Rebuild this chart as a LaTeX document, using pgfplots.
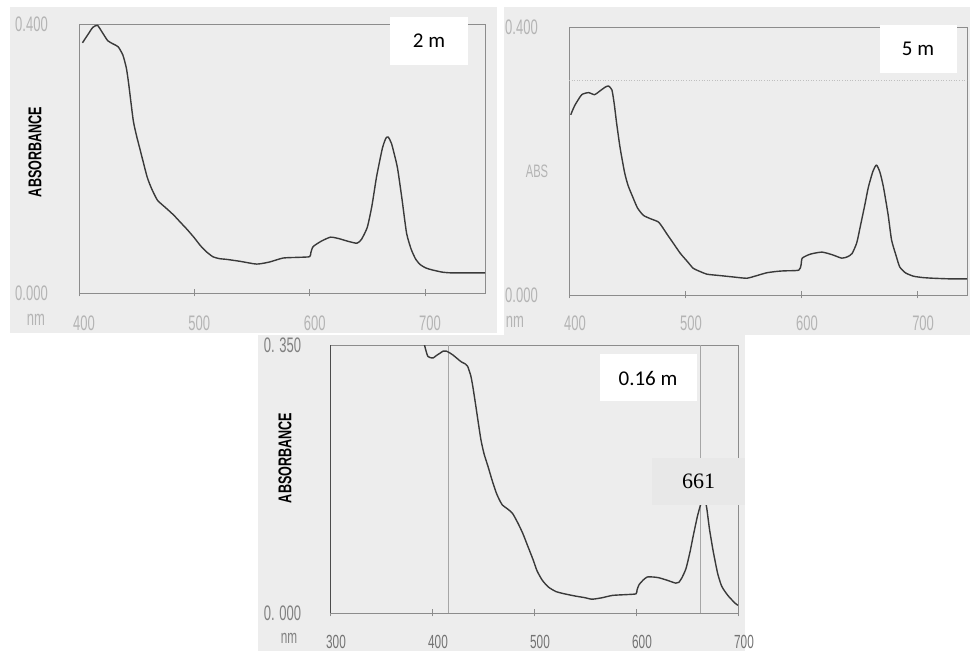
\documentclass[border=0pt]{standalone}
\usepackage{pgfplots}
\pgfplotsset{compat=1.18}
\usepackage{fontspec}
\setmainfont{Liberation Sans}
\newfontfamily\calib{Carlito}
\newfontfamily\tnr{Liberation Serif}
\definecolor{scan}{HTML}{EDEDED}
\definecolor{curve}{HTML}{3A3A3A}
\definecolor{faint}{HTML}{B4B4B4}
\newcommand\tl[1]{\scalebox{0.62}[1]{#1}}
\newcommand\absb{\fontsize{18.5}{18.5}\selectfont\bfseries\scalebox{0.68}[1]{ABSORBANCE}}
\pgfplotsset{
  scan axis/.style={
    scale only axis, anchor=south west,
    axis line style={black!45, line width=0.7pt},
    xtick pos=bottom, tick align=center, major tick length=7pt,
    xtick style={black!45, line width=0.7pt},
    ytick style={draw=none},
    tick label style={font=\fontsize{21}{21}\selectfont, text=faint},
    xticklabel style={anchor=center},
    yticklabel style={anchor=center, xshift=-44pt},
    clip=true,
    every axis plot/.append style={line join=round},
  },
}
\begin{document}
\begin{tikzpicture}[x=1pt,y=1pt]
\useasboundingbox (0,0) rectangle (970,651);
\fill[white] (0,0) rectangle (970,651);
\fill[scan] (10,318) rectangle (497,644);
\fill[scan] (504,316) rectangle (970,644);
\fill[scan] (258,0) rectangle (745,316);

% ---------- panel 1 : 2 m
\begin{axis}[scan axis, at={(79pt,358pt)}, width=406pt, height=269pt,
  xmin=400, xmax=752, ymin=0, ymax=0.4,
  xtick={400,500,600,700}, xticklabels={\tl{400},\tl{500},\tl{600},\tl{700}},
  xticklabel style={yshift=-27pt, xshift=5pt},
  ytick={0,0.4}, yticklabels={\tl{0.000},\tl{0.400}}]
\addplot[black!60, line width=0.8pt] coordinates {(400,0)(752,0)};
\addplot[curve, line width=1.4pt, smooth, tension=0.35] coordinates {
(403,0.372) (408,0.385) (412,0.395) (416,0.398) (420,0.388) (425,0.375) (430,0.370)
(434,0.366) (438,0.354) (441,0.335) (443,0.312) (447,0.257) (450,0.233) (453,0.213)
(459,0.173) (463,0.155) (468,0.138) (475,0.127) (482,0.116) (488,0.105) (494,0.094)
(500,0.082) (505,0.071) (510,0.062) (516,0.054) (522,0.051) (528,0.050) (540,0.047)
(554,0.043) (565,0.046) (577,0.052) (590,0.053) (600,0.054) (601,0.060) (603,0.069)
(610,0.077) (618,0.083) (625,0.081) (633,0.077) (641,0.074) (645,0.080) (650,0.098)
(654,0.130) (658,0.173) (663,0.215) (666,0.230) (668,0.232) (671,0.222) (676,0.187)
(680,0.140) (684,0.089) (688,0.065) (692,0.050) (696,0.042) (701,0.037) (707,0.034)
(715,0.031) (722,0.030) (735,0.030) (752,0.030)};
\end{axis}

% ---------- panel 2 : 5 m
\begin{axis}[scan axis, at={(569pt,356pt)}, width=398pt, height=268pt,
  xmin=400, xmax=743, ymin=0, ymax=0.4,
  xtick={400,500,600,700}, xticklabels={\tl{400},\tl{500},\tl{600},\tl{700}},
  xticklabel style={yshift=-25pt, xshift=6pt},
  ytick={0,0.4}, yticklabels={\tl{0.000},\tl{0.400}}]
\addplot[black!60, line width=0.8pt] coordinates {(400,0)(743,0)};
\addplot[black!25, line width=0.6pt, dotted] coordinates {(400,0.321)(743,0.321)};
\addplot[curve, line width=1.4pt, smooth, tension=0.35] coordinates {
(401.5,0.269) (405,0.283) (411,0.299) (417,0.302) (422,0.299) (427,0.305) (431,0.310)
(434,0.312) (437,0.306) (439,0.285) (441,0.257) (444,0.220) (448,0.182) (451,0.163)
(455,0.146) (459,0.130) (464,0.119) (470,0.114) (477,0.109) (481,0.100) (484,0.092)
(490,0.077) (496,0.062) (502,0.050) (507,0.040) (513,0.035) (519,0.031) (530,0.029)
(541,0.027) (553,0.025) (560,0.028) (570,0.033) (578,0.035) (585,0.036) (598,0.037)
(600,0.045) (601,0.055) (608,0.061) (618,0.064) (627,0.060) (635,0.055) (640,0.057)
(644,0.062) (648,0.078) (651,0.102) (655,0.135) (658,0.161) (662,0.185) (665,0.194)
(668,0.183) (671,0.161) (675,0.120) (678,0.082) (682,0.058) (685,0.042) (690,0.033)
(697,0.028) (705,0.026) (714,0.025) (730,0.024) (743,0.024)};
\end{axis}

% ---------- panel 3 : 0.16 m
\begin{axis}[scan axis, at={(330pt,38pt)}, width=408pt, height=268pt,
  xmin=300, xmax=700, ymin=0, ymax=0.35,
  xtick={300,400,500,600,700}, xticklabels={\tl{300},\tl{400},\tl{500},\tl{600},\tl{700}},
  xticklabel style={yshift=-25pt, xshift=6pt, text=black!55, font=\fontsize{19}{19}\selectfont},
  yticklabel style={text=black!50},
  ytick={0,0.35}, yticklabels={\tl{0. 000},\tl{0. 350}}]
\addplot[black!70, line width=0.9pt] coordinates {(300,0)(700,0)};
\addplot[black!70, line width=0.9pt] coordinates {(300,0)(300,0.35)};
\addplot[black!35, line width=0.6pt] coordinates {(415.6,0)(415.6,0.35)};
\addplot[black!35, line width=0.6pt] coordinates {(663,0)(663,0.35)};
\addplot[curve, line width=1.4pt, smooth, tension=0.35] coordinates {
(391,0.36) (393,0.348) (396,0.335) (401,0.333) (404,0.336) (407.5,0.339) (411,0.342)
(414,0.342) (417,0.340) (420.5,0.337) (425,0.332) (428.7,0.328) (433,0.325) (435,0.322)
(438,0.310) (440,0.296) (443,0.270) (445,0.252) (448,0.226) (451,0.208) (455,0.191)
(459,0.173) (463,0.157) (466,0.148) (469,0.141) (474,0.136) (479,0.130) (484,0.118)
(489,0.104) (494,0.087) (499,0.070) (503,0.055) (508,0.043) (514,0.034) (521.5,0.028)
(530,0.025) (541,0.022) (550,0.020) (557,0.018) (567,0.020) (577,0.023) (590,0.024)
(600,0.025) (601,0.030) (603,0.037) (607,0.043) (611,0.047) (617,0.047) (622.5,0.046)
(630,0.043) (639,0.039) (642,0.040) (645,0.046) (649,0.058) (653,0.080) (656,0.100)
(660,0.125) (663,0.140) (666,0.150) (669,0.140) (672,0.110) (675.5,0.082) (680,0.052)
(684,0.035) (690,0.023) (697,0.013) (700,0.010)};
\end{axis}

% ---------- texts
\node[rotate=90, text=black] at (35,499) {\absb};
\node[rotate=90, text=black] at (285,193) {\absb};
\node[text=faint, font=\fontsize{21}{21}\selectfont] at (36,331) {\tl{nm}};
\node[text=faint, font=\fontsize{21}{21}\selectfont] at (515,329) {\tl{nm}};
\node[text=black!50, font=\fontsize{19}{19}\selectfont] at (289,13) {\tl{nm}};
\node[text=faint, font=\fontsize{18}{18}\selectfont] at (537,480) {\tl{ABS}};

\node[fill=white, minimum width=78pt, minimum height=48pt, inner sep=0pt,
  font=\calib\fontsize{21}{21}\selectfont] at (429,610) {2 m};
\node[fill=white, minimum width=77pt, minimum height=48pt, inner sep=0pt,
  font=\calib\fontsize{21}{21}\selectfont] at (918,602) {5 m};
\node[fill=white, minimum width=97pt, minimum height=47pt, inner sep=0pt,
  font=\calib\fontsize{21}{21}\selectfont] at (648,273) {0.16 m};
\node[fill=black!9, minimum width=93pt, minimum height=47pt, inner sep=0pt,
  font=\tnr\fontsize{22}{22}\selectfont] at (698.5,169.5) {661};
\end{tikzpicture}
\end{document}
